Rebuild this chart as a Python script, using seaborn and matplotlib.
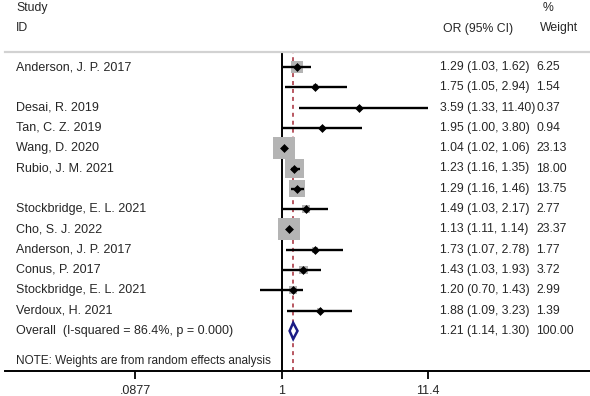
import numpy as np
import pandas as pd
import matplotlib
matplotlib.use("Agg")
import matplotlib.pyplot as plt
import seaborn as sns

# Study-level data
studies = ["Anderson, J. P. 2017", "", "Desai, R. 2019", "Tan, C. Z. 2019",
           "Wang, D. 2020", "Rubio, J. M. 2021", "", "Stockbridge, E. L. 2021",
           "Cho, S. J. 2022", "Anderson, J. P. 2017", "Conus, P. 2017",
           "Stockbridge, E. L. 2021", "Verdoux, H. 2021"]
or_est = [1.29, 1.75, 3.59, 1.95, 1.04, 1.23, 1.29, 1.49, 1.13, 1.73, 1.43, 1.20, 1.88]
ci_low = [1.03, 1.05, 1.33, 1.00, 1.02, 1.16, 1.16, 1.03, 1.11, 1.07, 1.03, 0.70, 1.09]
ci_high = [1.62, 2.94, 11.40, 3.80, 1.06, 1.35, 1.46, 2.17, 1.14, 2.78, 1.93, 1.43, 3.23]
weights = [6.25, 1.54, 0.37, 0.94, 23.13, 18.00, 13.75, 2.77, 23.37, 1.77, 3.72, 2.99, 1.39]

# Pooled estimate
overall_label = "Overall  (I-squared = 86.4%, p = 0.000)"
overall_or = 1.21
overall_low = 1.14
overall_high = 1.30
overall_weight = 100.00

tick_values = [0.0877, 1, 11.4]
tick_labels = [".0877", "1", "11.4"]

sns.set_style("white")
plt.rcParams["font.family"] = ["Liberation Sans", "DejaVu Sans"]
FS = 9.0
FS_NUM = 8.8
FS_NOTE = 8.5

df = pd.DataFrame({"study": studies, "or": or_est, "lo": ci_low, "hi": ci_high,
                   "w": weights})
df["row"] = np.arange(len(df))
overall_row = len(df)
note_row = overall_row + 1.5

W, H = 590, 396
fig = plt.figure(figsize=(W / 100, H / 100), dpi=100)
ax = fig.add_axes([5 / W, (H - 371) / H, 585 / W, (371 - 52) / H])

ax.set_xscale("log")
x_px0, px_per_dec = 281.7, 138.7
ax.set_xlim(10 ** ((5 - x_px0) / px_per_dec), 10 ** ((590 - x_px0) / px_per_dec))
row0, row_h = 67.0, 20.3
ax.set_ylim((371 - row0) / row_h, (52 - row0) / row_h)

# Reference lines
ax.axvline(1, color="black", lw=1.4, zorder=1)
ax.axvline(overall_or, color="#b34a55", lw=1.3, ls=(0, (2.2, 2.2)), zorder=1.5)

# Weight boxes (area proportional to weight)
sns.scatterplot(data=df, x="or", y="row", size="w", sizes=(0, 1073),
                size_norm=(0, 100), marker="s", color="#b4b4b4",
                edgecolor="none", legend=False, ax=ax, zorder=2)

# Confidence intervals
ax.hlines(df["row"], df["lo"], df["hi"], color="black", lw=1.7, zorder=3)

# Point estimates
sns.scatterplot(data=df, x="or", y="row", marker="D", s=16, color="black",
                edgecolor="black", linewidth=0.5, legend=False, ax=ax, zorder=4)

# Pooled diamond
dh = 0.4
ax.fill([overall_low, overall_or, overall_high, overall_or],
        [overall_row, overall_row - dh, overall_row, overall_row + dh],
        facecolor="white", edgecolor="#1c1c85", lw=1.8, zorder=4)

# Axes styling
for side in ["left", "right"]:
    ax.spines[side].set_visible(False)
ax.spines["top"].set_color("#d2d2d2")
ax.spines["top"].set_linewidth(1.6)
ax.spines["bottom"].set_color("black")
ax.spines["bottom"].set_linewidth(1.4)
ax.set_yticks([])
ax.set_xticks(tick_values)
ax.set_xticklabels(tick_labels)
ax.xaxis.set_minor_locator(matplotlib.ticker.NullLocator())
ax.tick_params(axis="x", which="major", direction="out", length=6, width=1.3,
               pad=4, labelsize=FS, bottom=True, color="black")
ax.set_xlabel("")
ax.set_ylabel("")

ytr = ax.get_yaxis_transform()
name_x = (16 - 5) / 585
est_x = (440 - 5) / 585
wt_x = (536.5 - 5) / 585

for _, r in df.iterrows():
    if r["study"]:
        ax.text(name_x, r["row"], r["study"], transform=ytr, va="center",
                ha="left", fontsize=FS)
    ax.text(est_x, r["row"], f"{r['or']:.2f} ({r['lo']:.2f}, {r['hi']:.2f})",
            transform=ytr, va="center", ha="left", fontsize=FS_NUM)
    ax.text(wt_x, r["row"], f"{r['w']:.2f}", transform=ytr, va="center",
            ha="left", fontsize=FS_NUM)

ax.text(name_x, overall_row, overall_label, transform=ytr, va="center",
        ha="left", fontsize=FS)
ax.text(est_x, overall_row,
        f"{overall_or:.2f} ({overall_low:.2f}, {overall_high:.2f})",
        transform=ytr, va="center", ha="left", fontsize=FS_NUM)
ax.text(wt_x, overall_row, f"{overall_weight:.2f}", transform=ytr,
        va="center", ha="left", fontsize=FS_NUM)
ax.text(name_x, note_row, "NOTE: Weights are from random effects analysis",
        transform=ytr, va="center", ha="left", fontsize=FS_NOTE)

# Column headers
def header(x, y, s):
    fig.text(x / W, 1 - y / H, s, va="center", ha="left", fontsize=FS_NUM)

header(16, 8, "Study")
header(16, 28, "ID")
header(443, 29, "OR (95% CI)")
header(543, 8, "%")
header(540, 28, "Weight")

fig.savefig("out.png", dpi=100)
